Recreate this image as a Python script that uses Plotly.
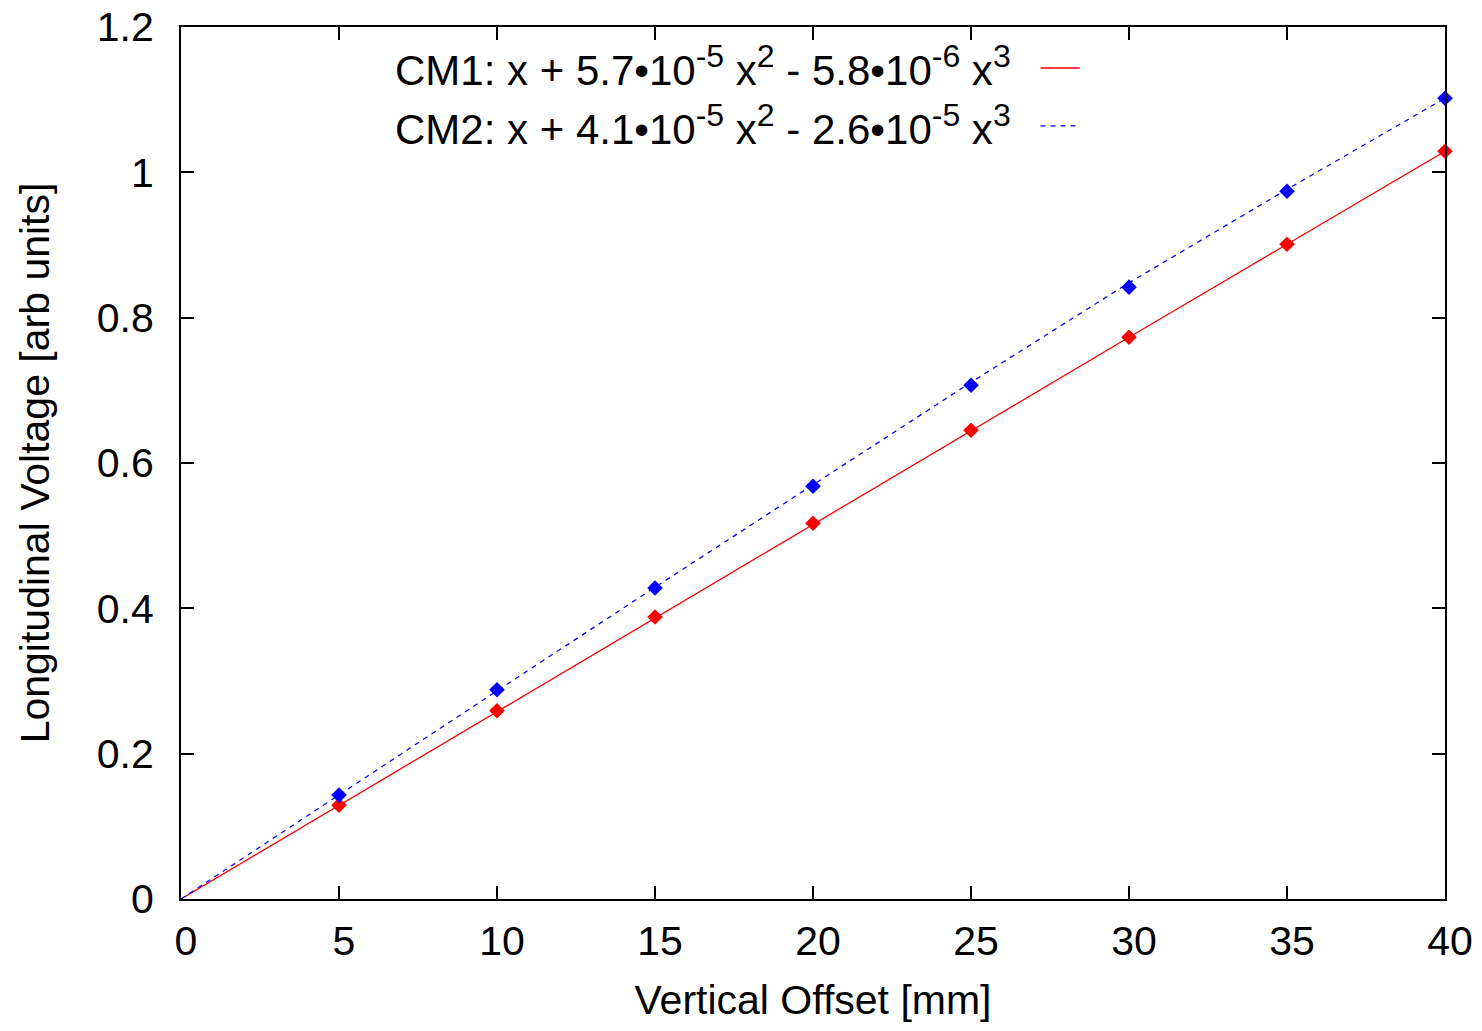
import plotly.graph_objects as go

offsets = [5, 10, 15, 20, 25, 30, 35, 40]
cm1_vals = [0.129, 0.259, 0.388, 0.517, 0.645, 0.773, 0.901, 1.029]
cm2_vals = [0.143, 0.288, 0.428, 0.568, 0.707, 0.842, 0.974, 1.102]

fit_x = [0, 5, 10, 15, 20, 25, 30, 35, 40]
cm1_fit = [0.0, 0.129, 0.258, 0.387, 0.516, 0.645, 0.773, 0.901, 1.029]
cm2_fit = [0.0, 0.1435, 0.2865, 0.429, 0.5705, 0.711, 0.848, 0.9765, 1.102]

x_ticks = [0, 5, 10, 15, 20, 25, 30, 35, 40]
y_ticks = [0, 0.2, 0.4, 0.6, 0.8, 1.0, 1.2]
y_labels = ["0", "0.2", "0.4", "0.6", "0.8", "1", "1.2"]


def sup(s):
    return '<sup><span style="font-size:32px">' + s + '</span></sup>'


legend1 = "CM1: x + 5.7\u202210" + sup("-5") + " x" + sup("2") + " - 5.8\u202210" + sup("-6") + " x" + sup("3")
legend2 = "CM2: x + 4.1\u202210" + sup("-5") + " x" + sup("2") + " - 2.6\u202210" + sup("-5") + " x" + sup("3")

RED = "#ff0000"
BLUE = "#0000ff"
FONT = "Liberation Sans, Arial, sans-serif"
FS = 41

fig = go.Figure()
fig.add_trace(go.Scatter(x=fit_x, y=cm1_fit, mode="lines",
                         line=dict(color=RED, width=1.3), showlegend=False))
fig.add_trace(go.Scatter(x=fit_x, y=cm2_fit, mode="lines",
                         line=dict(color=BLUE, width=1.3, dash="5px,5px"), showlegend=False))
fig.add_trace(go.Scatter(x=offsets, y=cm1_vals, mode="markers",
                         marker=dict(symbol="diamond", color=RED, size=12, line=dict(width=0)),
                         showlegend=False, cliponaxis=False))
fig.add_trace(go.Scatter(x=offsets, y=cm2_vals, mode="markers",
                         marker=dict(symbol="diamond", color=BLUE, size=12, line=dict(width=0)),
                         showlegend=False, cliponaxis=False))

# legend text (gnuplot style: text then sample)
fig.add_annotation(x=0.658, y=0.955, xref="paper", yref="paper", text=legend1,
                   showarrow=False, xanchor="right", yanchor="middle",
                   font=dict(family=FONT, size=42, color="black"))
fig.add_annotation(x=0.658, y=0.888, xref="paper", yref="paper", text=legend2,
                   showarrow=False, xanchor="right", yanchor="middle",
                   font=dict(family=FONT, size=42, color="black"))
fig.add_shape(type="line", xref="paper", yref="paper", x0=0.680, x1=0.711,
              y0=0.953, y1=0.953, line=dict(color=RED, width=1.3))
fig.add_shape(type="line", xref="paper", yref="paper", x0=0.680, x1=0.708,
              y0=0.8865, y1=0.8865, line=dict(color=BLUE, width=1.3, dash="5px,5px"))

axis_common = dict(showgrid=False, zeroline=False, showline=True, linecolor="black",
                   linewidth=2, mirror="allticks", ticks="inside", ticklen=13,
                   tickwidth=1.5, tickcolor="black", automargin=False,
                   ticklabeloverflow="allow",
                   tickfont=dict(family=FONT, size=FS, color="black"))

fig.update_xaxes(range=[0, 40], tickvals=x_ticks, ticktext=[str(v) for v in x_ticks],
                 title=dict(text="Vertical Offset [mm]", font=dict(family=FONT, size=FS, color="black"),
                            standoff=37),
                 ticklabelstandoff=5, ticklabelshift=5, **axis_common)
fig.update_yaxes(range=[0, 1.2], tickvals=y_ticks, ticktext=y_labels,
                 title=dict(text="Longitudinal Voltage [arb units]",
                            font=dict(family=FONT, size=FS, color="black"), standoff=34),
                 ticklabelstandoff=17, **axis_common)

fig.update_layout(width=1466, height=1015, margin=dict(l=173, r=29, t=19, b=124),
                  plot_bgcolor="white", paper_bgcolor="white", showlegend=False)

fig.write_html("out.html")
